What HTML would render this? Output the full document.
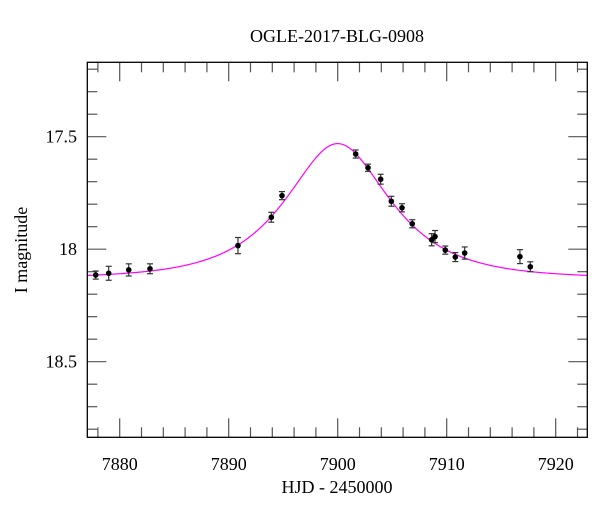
<!DOCTYPE html>
<html><head><meta charset="utf-8"><style>
html,body{margin:0;padding:0;background:#fff;}
svg text{font-family:"Liberation Serif",serif;fill:#000;}
</style></head><body>
<svg id="chart" width="600" height="512" viewBox="0 0 600 512" xmlns="http://www.w3.org/2000/svg">
<text x="337" y="42" font-size="18" text-anchor="middle">OGLE-2017-BLG-0908</text>
<g id="axes"></g>
<g id="model"></g>
<g id="points"></g>
<rect x="87.3" y="62.3" width="500" height="375" fill="none" stroke="#000" stroke-width="1.3"/>
<text x="337" y="493" font-size="18" text-anchor="middle">HJD - 2450000</text>
<text x="0" y="0" font-size="18" text-anchor="middle" transform="translate(27,250) rotate(-90)">I magnitude</text>
</svg>
<script>
const hjd = [7877.80,7878.99,7880.83,7882.78,7890.85,7893.91,7894.89,7901.65,7902.78,7903.94,7904.92,7905.90,7906.84,7908.62,7908.93,7909.87,7910.79,7911.65,7916.72,7917.67];
const mag = [18.115,18.107,18.092,18.087,17.984,17.858,17.762,17.577,17.638,17.689,17.787,17.816,17.887,17.958,17.944,18.004,18.035,18.017,18.033,18.078];
const magErr = [0.018,0.031,0.027,0.022,0.036,0.022,0.018,0.018,0.016,0.022,0.022,0.018,0.018,0.027,0.027,0.018,0.020,0.027,0.031,0.022];
const xTicks = [7880,7890,7900,7910,7920];
const yTicks = [17.5,18,18.5];
const yTickLabels = ["17.5","18","18.5"];
const modelT0 = [7900.0];
const modelU0 = [0.668];
const modelTE = [7.15];
const modelI0 = [18.13];

const NS="http://www.w3.org/2000/svg";
const L=87.3,R=587.3,T=62.3,B=437.3;
const xMin=7880-(119.7-L)/10.9, xMax=7880+(R-119.7)/10.9;
const yMin=17.5-(136.7-T)/225, yMax=17.5+(B-136.7)/225;
function X(t){return L+(t-xMin)/(xMax-xMin)*(R-L);}
function Y(m){return T+(m-yMin)/(yMax-yMin)*(B-T);}
function mk(tag,attrs,parent){const e=document.createElementNS(NS,tag);for(const k in attrs)e.setAttribute(k,attrs[k]);parent.appendChild(e);return e;}
const axes=document.getElementById('axes');
// x ticks
for(let t=Math.ceil(xMin/2)*2;t<=xMax;t+=2){
  const major=Math.abs(t%10)<1e-6; const len=major?19:10; const x=X(t);
  const a=mk('line',{x1:x,y1:B,x2:x,y2:B-len,stroke:'#555','stroke-width':1.2},axes);
  
  
  const b=mk('line',{x1:x,y1:T,x2:x,y2:T+len,stroke:'#555','stroke-width':1.2},axes);
  
  
}
xTicks.forEach(t=>{
  const tx=mk('text',{x:X(t),y:470,'font-size':18,'text-anchor':'middle'},axes);
  tx.textContent=String(t);
  
  
});
// y ticks
for(let k=Math.ceil(yMin*10);k<=yMax*10;k++){
  const m=k/10; const major=(k%5===0); const len=major?19:10; const y=Y(m);
  const a=mk('line',{x1:L,y1:y,x2:L+len,y2:y,stroke:'#555','stroke-width':1.2},axes);
  
  
  const b=mk('line',{x1:R,y1:y,x2:R-len,y2:y,stroke:'#555','stroke-width':1.2},axes);
  
  
}
yTicks.forEach((m,i)=>{
  const tx=mk('text',{x:77,y:Y(m)+6,'font-size':18,'text-anchor':'end'},axes);
  tx.textContent=yTickLabels[i];
  
  
});
// model curve
function amp(t){const tau=(t-modelT0[0])/modelTE[0];const u=Math.sqrt(modelU0[0]*modelU0[0]+tau*tau);return (u*u+2)/(u*Math.sqrt(u*u+4));}
let d='';
for(let i=0;i<=500;i++){const t=xMin+(xMax-xMin)*i/500;const m=modelI0[0]-2.5*Math.log10(amp(t));d+=(i?'L':'M')+X(t).toFixed(2)+','+Y(m).toFixed(2);}
const curve=mk('path',{d:d,fill:'none',stroke:'#ff00ff','stroke-width':1.2},document.getElementById('model'));


// points
const pg=document.getElementById('points');
hjd.forEach((t,i)=>{
  const x=X(t),y1=Y(mag[i]-magErr[i]),y2=Y(mag[i]+magErr[i]);
  const g=mk('g',{},pg);
  
  
  mk('line',{x1:x,y1:y1,x2:x,y2:y2,stroke:'#333','stroke-width':1.2},g);
  mk('line',{x1:x-3,y1:y1,x2:x+3,y2:y1,stroke:'#333','stroke-width':1.2},g);
  mk('line',{x1:x-3,y1:y2,x2:x+3,y2:y2,stroke:'#333','stroke-width':1.2},g);
  mk('circle',{cx:x,cy:Y(mag[i]),r:2.8,fill:'#000'},g);
});
</script>
</body></html>
